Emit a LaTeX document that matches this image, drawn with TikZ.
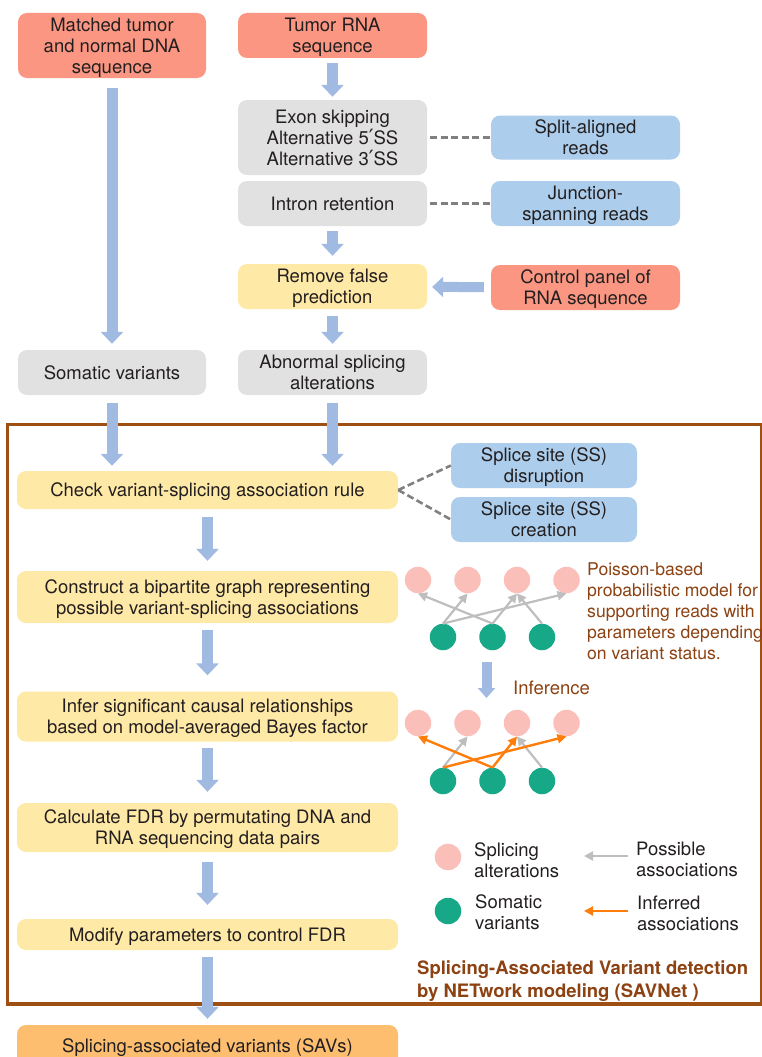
\documentclass[tikz,border=0pt]{standalone}
\usepackage{fontspec}
\setmainfont{TeX Gyre Heros}
\newfontfamily\PrimeFont{DejaVu Sans}
\usepackage{tikz}
\usetikzlibrary{arrows.meta}
\usepackage{xcolor}
\definecolor{ColRed}{RGB}{250,150,130}
\definecolor{ColGrey}{RGB}{225,225,225}
\definecolor{ColBlue}{RGB}{172,205,235}
\definecolor{ColYellow}{RGB}{255,233,166}
\definecolor{ColOrange}{RGB}{253,190,112}
\definecolor{ColFlow}{RGB}{160,186,226}
\definecolor{ColFrame}{RGB}{158,80,20}
\definecolor{ColBrown}{RGB}{140,66,18}
\definecolor{ColText}{RGB}{35,31,32}
\definecolor{ColDash}{RGB}{128,128,128}
\definecolor{ColPink}{RGB}{251,191,186}
\definecolor{ColGreen}{RGB}{22,168,135}
\definecolor{ColPoss}{RGB}{190,190,190}
\definecolor{ColInf}{RGB}{255,125,10}
\newcommand{\LabFont}{\fontsize{18.5}{21}\selectfont}
\newcommand{\NoteFont}{\fontsize{17.6}{21}\selectfont}
\newcommand{\PrimeMark}{{\PrimeFont\fontsize{21}{21}\selectfont ′}}
\tikzstyle{BoxNode}=[rounded corners=9pt,align=center,inner sep=0pt,text=ColText,font=\LabFont,text depth=0pt]
\tikzstyle{RedBox}=[BoxNode,fill=ColRed,minimum width=189pt,minimum height=45pt]
\tikzstyle{GreyBox}=[BoxNode,fill=ColGrey,minimum width=189pt,minimum height=45pt]
\tikzstyle{BlueBox}=[BoxNode,fill=ColBlue,minimum width=189pt,minimum height=45pt]
\tikzstyle{StepBox}=[BoxNode,fill=ColYellow,minimum width=381pt,minimum height=50pt]
\tikzstyle{FlowArrow}=[ColFlow,line width=11pt,-{Triangle[width=22pt,length=12pt]},
shorten <=7pt,shorten >=6pt]
\tikzstyle{DashLink}=[ColDash,line width=2.6pt,dash pattern=on 7pt off 3.5pt]
\tikzstyle{PinkDot}=[circle,fill=ColPink,minimum size=26.5pt,inner sep=0pt]
\tikzstyle{GreenDot}=[circle,fill=ColGreen,minimum size=26.5pt,inner sep=0pt]
\tikzstyle{PossArc}=[ColPoss,line width=2.2pt,-{Triangle[width=9pt,length=9pt]}]
\tikzstyle{InfArc}=[ColInf,line width=2.4pt,-{Triangle[width=9pt,length=9pt]}]
\tikzstyle{NoteText}=[align=left,inner sep=0pt,font=\LabFont]

\begin{document}
\begin{tikzpicture}[x=1pt,y=-1pt]
    \useasboundingbox (0,0) rectangle (761,1057);
    % frame of SAVNet
    \draw[ColFrame,line width=3.5pt] (7.5,424.5) rectangle (761.5,1004);
    % input and detection steps
    \node[RedBox,minimum width=188pt,minimum height=65pt](dna)at(112,45.5){Matched tumor\\and normal DNA\\sequence};
    \node[RedBox](rna)at(332.5,35.5){Tumor RNA\\sequence};
    \node[GreyBox,minimum height=75pt](exon)at(332.5,137.5){Exon skipping\\Alternative 5\PrimeMark SS\\Alternative 3\PrimeMark SS};
    \node[GreyBox](intr)at(332.5,203.5){Intron retention};
    \node[BlueBox,minimum height=44pt](split)at(585.5,137.5){Split-aligned\\reads};
    \node[BlueBox](junc)at(585.5,203.5){Junction-\\spanning reads};
    \node[StepBox,minimum width=189pt,minimum height=45pt](remv)at(332.5,286.5){Remove false\\prediction};
    \node[RedBox](ctrl)at(585.5,287.5){Control panel of\\RNA sequence};
    \node[GreyBox,minimum width=188pt](som)at(112,372.5){Somatic variants};
    \node[GreyBox](abn)at(332.5,372.5){Abnormal splicing\\alterations};
    % SAVNet steps
    \node[StepBox,minimum height=38pt](chk)at(207.5,490){Check variant-splicing association rule};
    \node[BlueBox,minimum width=186pt](dis)at(544,465.5){Splice site (SS)\\disruption};
    \node[BlueBox,minimum width=186pt](cre)at(544,519.5){Splice site (SS)\\creation};
    \node[StepBox,minimum height=52pt](cons)at(207.5,597){Construct a bipartite graph representing\\possible variant-splicing associations};
    \node[StepBox](infr)at(207.5,716.5){Infer significant causal relationships\\based on model-averaged Bayes factor};
    \node[StepBox,minimum height=49pt](calc)at(207.5,827.5){Calculate FDR by permutating DNA and\\RNA sequencing data pairs};
    \node[StepBox,minimum height=31pt](modf)at(207.5,934.5){Modify parameters to control FDR};
    \node[StepBox,fill=ColOrange,minimum height=42pt](savs)at(207.5,1046){Splicing-associated variants (SAVs)};
    % flow arrows
    \draw[FlowArrow,shorten <=10pt](dna)--(som);
    \draw[FlowArrow,shorten <=5pt,shorten >=3pt](rna)--(exon);
    \draw[FlowArrow,shorten <=5pt,shorten >=8pt](intr)--(remv);
    \draw[FlowArrow,line width=10pt,-{Triangle[width=20pt,length=11pt]},shorten >=5pt](ctrl)--(remv);
    \draw[FlowArrow](remv)--(abn);
    \draw[FlowArrow,shorten <=8pt,shorten >=5pt](som)--(som|-chk.north);
    \draw[FlowArrow,shorten <=8pt,shorten >=5pt](abn)--(abn|-chk.north);
    \draw[FlowArrow,shorten <=8pt,shorten >=10pt](chk)--(cons);
    \draw[FlowArrow,shorten >=16pt](cons)--(infr);
    \draw[FlowArrow,shorten <=6pt,shorten >=11pt](infr)--(calc);
    \draw[FlowArrow,shorten <=10pt,shorten >=14pt](calc)--(modf);
    \draw[FlowArrow](modf)--(savs);
    % read types
    \draw[DashLink,shorten <=3pt](exon)--(split);
    \draw[DashLink,shorten <=3pt](intr)--(junc);
    \draw[DashLink](chk.east)--(dis.west);
    \draw[DashLink](chk.east)--(cre.west);
    % bipartite graphs
    \foreach \i/\x in {1/418,2/467.5,3/517,4/566.5}{
        \node[PinkDot](pa\i)at(\x,580){};
        \node[PinkDot](pb\i)at(\x,723){};
    }
    \foreach \i/\x in {1/443,2/492.5,3/542}{
        \node[GreenDot](ga\i)at(\x,637){};
        \node[GreenDot](gb\i)at(\x,781){};
    }
    \draw[PossArc](ga1.north)--(pa2.south);
    \draw[PossArc](ga1.north)--(pa4.south);
    \draw[PossArc](ga2.north)--(pa1.south);
    \draw[PossArc](ga2.north)--(pa3.south);
    \draw[PossArc](ga3.north)--(pa3.south);
    \draw[PossArc](gb1.north)--(pb2.south);
    \draw[PossArc](gb3.north)--(pb3.south);
    \draw[InfArc](gb1.north)--(pb4.south);
    \draw[InfArc](gb2.north)--(pb1.south);
    \draw[InfArc](gb2.north)--(pb3.south);
    \node[NoteText,font=\NoteFont,text=ColBrown,anchor=north west](model)at(587,562){Poisson-based\\probabilistic model for\\supporting reads with\\parameters depending\\on variant status.};
    \coordinate(infA)at(486.5,662);
    \coordinate(infB)at(486.5,698);
    \draw[ColFlow,line width=10pt,-{Triangle[width=17pt,length=10pt]}](infA)--(infB);
    \node[NoteText,text=ColBrown,anchor=west](infer)at(513,688){Inference};
    % legend
    \node[PinkDot](lgsa)at(448,857){};
    \node[GreenDot](lgsv)at(448,911){};
    \node[NoteText,text=ColText,anchor=west](lgsaT)at(474,860){Splicing\\alterations};
    \node[NoteText,text=ColText,anchor=west](lgsvT)at(475,912){Somatic\\variants};
    \node[NoteText,text=ColText,anchor=west](lgpaT)at(636,859){Possible\\associations};
    \node[NoteText,text=ColText,anchor=west](lgiaT)at(637,913){Inferred\\associations};
    \coordinate(lgpa)at(584,856);
    \coordinate(lgia)at(584,911);
    \draw[PossArc,shorten <=8pt](lgpaT.west|-lgpa)--(lgpa);
    \draw[InfArc,shorten <=9pt](lgiaT.west|-lgia)--(lgia);
    \node[NoteText,text=ColBrown,font=\fontsize{18.5}{23.5}\selectfont\bfseries,anchor=west](title)at(417,981){Splicing-Associated Variant detection\\by NETwork modeling (SAVNet )};
\end{tikzpicture}
\end{document}
